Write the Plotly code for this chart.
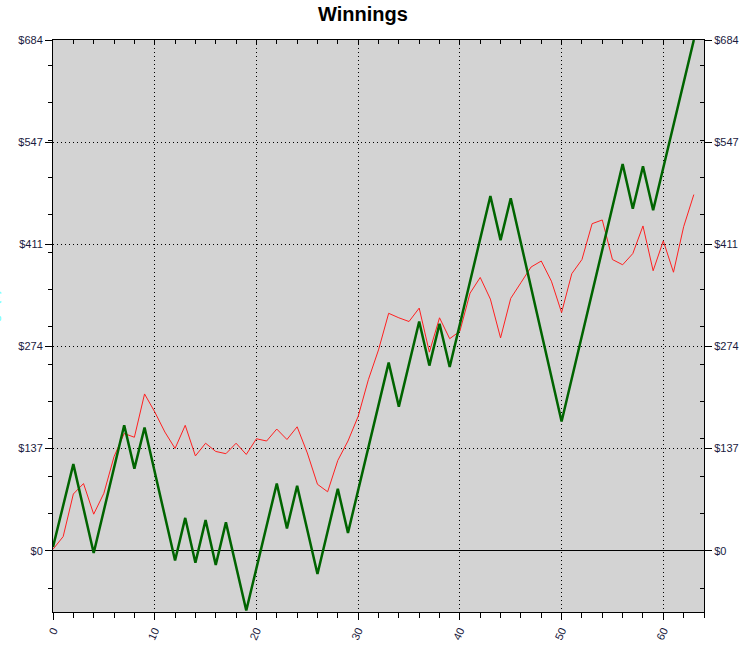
"""Winnings chart: cumulative green line against a thin red running series."""

import plotly.graph_objects as go

GREEN = "#006400"
RED = "#FF2020"
PLOT_BG = "#D3D3D3"
INK = "#000000"
LABEL_INK = "#1A1A40"

# green line: turning points only (straight segments between them)
green_x = [0, 2, 4, 7, 8, 9, 12, 13, 14, 15, 16, 17, 19, 22, 23, 24, 26, 28, 29,
           33, 34, 36, 37, 38, 39, 43, 44, 45, 50, 56, 57, 58, 59, 63]
green_y = [5, 116, -3, 168, 110, 165, -13, 44, -16, 41, -19, 38, -80, 90, 30, 87,
           -31, 83, 24, 252, 193, 307, 248, 304, 246, 475, 416, 472, 173, 518,
           458, 515, 456, 684]

# red line: one value per game
red_x = list(range(64))
red_y = [2, 19, 76, 90, 49, 77, 126, 157, 152, 210, 186, 159, 137, 168, 127, 144,
         133, 130, 144, 129, 150, 147, 163, 149, 166, 131, 89, 79, 121, 147, 180,
         229, 269, 318, 312, 307, 325, 266, 312, 284, 294, 345, 366, 337, 285, 338,
         359, 380, 388, 361, 319, 371, 390, 438, 443, 390, 383, 398, 435, 375, 415,
         373, 434, 477]

y_major = [0, 136.8, 273.6, 410.4, 547.2, 684]
y_labels = ["$0", "$137", "$274", "$411", "$547", "$684"]
y_range = [-82, 684]
x_range = [0, 64]

fig = go.Figure()
fig.add_trace(go.Scatter(x=red_x, y=red_y, mode="lines",
                         line=dict(color=RED, width=1), name="Average"))
fig.add_trace(go.Scatter(x=green_x, y=green_y, mode="lines",
                         line=dict(color=GREEN, width=2.5), name="Winnings"))
# carrier trace so the mirrored top / right axes get drawn
fig.add_trace(go.Scatter(x=[None], y=[None], xaxis="x2", yaxis="y2",
                         showlegend=False, hoverinfo="skip"))

tick_font = dict(family="Arial, Liberation Sans, sans-serif", size=11, color=LABEL_INK)
DOTS = "1px,3px"

fig.update_layout(
    width=750,
    height=656,
    margin=dict(l=53, r=46, t=40, b=44),
    paper_bgcolor="#FFFFFF",
    plot_bgcolor=PLOT_BG,
    showlegend=False,
    font=dict(family="Arial, Liberation Sans, sans-serif", size=11, color=INK),
    title=dict(text="<b>Winnings</b>", x=363 / 750, xanchor="center", xref="container",
               y=1 - 14 / 656, yanchor="middle",
               font=dict(size=20, color=INK, family="Arial, Liberation Sans, sans-serif")),
    xaxis=dict(
        range=x_range, tickmode="array", tickvals=list(range(0, 61, 10)),
        ticks="outside", ticklen=7, tickwidth=1, tickcolor=INK,
        tickangle=-65, tickfont=tick_font,
        showline=True, linecolor=INK, linewidth=1,
        showgrid=True, gridcolor=INK, gridwidth=1, griddash=DOTS,
        zeroline=False,
        minor=dict(dtick=2, tick0=0, ticks="outside", ticklen=5, tickcolor=INK,
                   showgrid=False),
    ),
    yaxis=dict(
        range=y_range, tickmode="array", tickvals=y_major, ticktext=y_labels,
        ticks="outside", ticklen=7, tickwidth=1, tickcolor=INK, tickfont=tick_font,
        showline=True, linecolor=INK, linewidth=1,
        showgrid=True, gridcolor=INK, gridwidth=1, griddash=DOTS,
        zeroline=True, zerolinecolor=INK, zerolinewidth=1,
        minor=dict(dtick=50, tick0=0, ticks="outside", ticklen=4, tickcolor=INK,
                   showgrid=False),
    ),
    xaxis2=dict(
        range=x_range, overlaying="x", side="top", showticklabels=False,
        tickmode="linear", tick0=0, dtick=2, ticks="inside", ticklen=4,
        tickcolor=INK, showline=True, linecolor=INK, linewidth=1,
        showgrid=False, zeroline=False,
    ),
    yaxis2=dict(
        range=y_range, overlaying="y", side="right", tickmode="array",
        tickvals=y_major, ticktext=y_labels, tickfont=tick_font,
        ticks="outside", ticklen=7, tickcolor=INK,
        showline=True, linecolor=INK, linewidth=1,
        showgrid=False, zeroline=False,
        minor=dict(dtick=50, tick0=0, ticks="inside", ticklen=4, tickcolor=INK,
                   showgrid=False),
    ),
)

# axis titles that sit mostly outside the page edge, as in the original
fig.add_annotation(text="<b>Winnings ($)</b>", textangle=-90, xref="paper", yref="paper",
                   x=(3 - 53) / 651, xanchor="right", y=0.5, yanchor="middle",
                   showarrow=False, font=dict(size=12, color="#80FFFF"))
fig.add_annotation(text="<b>Trade Number</b>", xref="paper", yref="paper",
                   x=0.5, xanchor="center", y=(612 - 652) / 572, yanchor="top",
                   showarrow=False, font=dict(size=12, color=INK))

# drop the default page margin so the figure sits at the window's corner
fig.write_html("out.html", config={"displayModeBar": False},
               post_script="document.body.style.margin='0px';")
